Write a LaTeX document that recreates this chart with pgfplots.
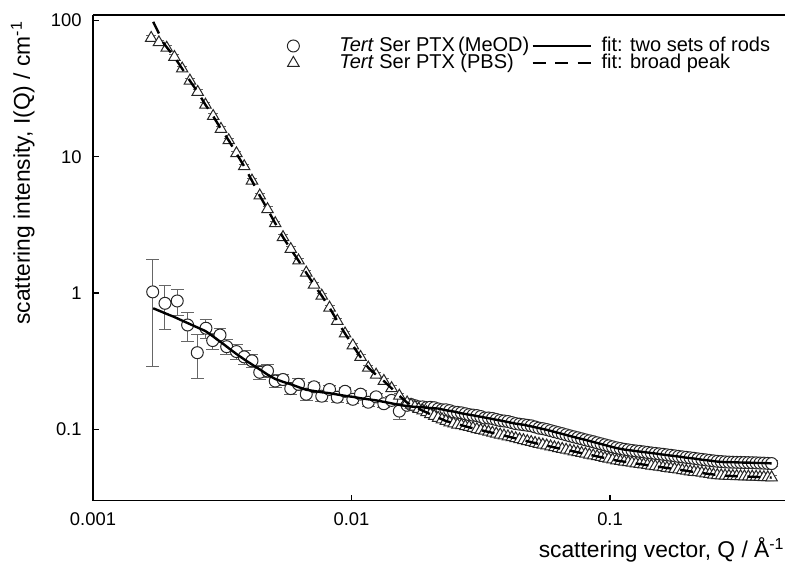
\documentclass[border=0pt]{standalone}
\usepackage{fontspec}
\setmainfont{Liberation Sans}
\usepackage{pgfplots}
\pgfplotsset{compat=1.18}
\usepackage{pgfplotstable}

\pgfplotsset{
    markleg/.style={legend image code/.code={\path[draw=none] (-12pt,0pt) -- (22pt,0pt);
        \path[##1] plot[only marks] coordinates {(0pt,0pt)};}},
    lineleg/.style={legend image code/.code={\draw[##1] (3.5pt,0pt) -- (32.5pt,0pt); \path[draw=none] (37pt,0pt);}},
}

% Tert Ser PTX in MeOD: Q, I(Q), error
\pgfplotstableread{
Q I err
0.001702 1.02 0.73
0.001899 0.841 0.305
0.002118 0.875 0.19
0.002323 0.583 0.14
0.002532 0.365 0.128
0.002735 0.552 0.09
0.002904 0.448 0.06
0.003100 0.492 0.06
0.003290 0.404 0.05
0.003589 0.372 0.045
0.003846 0.340 0.04
0.004121 0.318 0.035
0.004416 0.262 0.03
0.004732 0.268 0.03
0.005070 0.226 0.025
0.005433 0.232 0.022
0.005821 0.199 0.02
0.006237 0.214 0.02
0.006683 0.181 0.018
0.007161 0.205 0.017
0.007674 0.175 0.016
0.008222 0.196 0.015
0.008810 0.172 0.014
0.009441 0.190 0.013
0.01012 0.166 0.012
0.01084 0.181 0.012
0.01161 0.158 0.011
0.01245 0.173 0.011
0.01334 0.154 0.010
0.01429 0.163 0.010
0.01531 0.136 0.018
0.01641 0.150 0.008
0.01699 0.152 0.008
0.01758 0.149 0.007
0.01820 0.146 0.007
0.01884 0.146 0.007
0.01950 0.144 0.006
0.02018 0.145 0.006
0.02089 0.144 0.006
0.02163 0.141 0.006
0.02239 0.139 0.005
0.02317 0.139 0.005
0.02398 0.137 0.005
0.02483 0.134 0.005
0.02570 0.133 0.005
0.02661 0.132 0.005
0.02755 0.130 0.004
0.02851 0.128 0.004
0.02951 0.127 0.004
0.03055 0.126 0.004
0.03162 0.124 0.004
0.03273 0.121 0.004
0.03388 0.121 0.004
0.03508 0.120 0.004
0.03631 0.118 0.004
0.03758 0.116 0.004
0.03890 0.115 0.004
0.04027 0.114 0.004
0.04169 0.112 0.003
0.04315 0.110 0.003
0.04467 0.109 0.003
0.04624 0.108 0.003
0.04786 0.107 0.003
0.04955 0.106 0.003
0.05129 0.104 0.003
0.05309 0.102 0.003
0.05496 0.101 0.003
0.05689 0.0995 0.003
0.05889 0.0977 0.003
0.06095 0.0960 0.003
0.06309 0.0944 0.003
0.06531 0.0928 0.003
0.06761 0.0911 0.003
0.06998 0.0895 0.003
0.07244 0.0880 0.003
0.07499 0.0866 0.003
0.07763 0.0851 0.003
0.08035 0.0836 0.003
0.08318 0.0823 0.003
0.08610 0.0810 0.003
0.08913 0.0796 0.003
0.09226 0.0782 0.003
0.09550 0.0769 0.003
0.09886 0.0756 0.003
0.1023 0.0743 0.003
0.1059 0.0731 0.003
0.1096 0.0722 0.003
0.1135 0.0713 0.003
0.1175 0.0706 0.003
0.1216 0.0699 0.003
0.1259 0.0693 0.003
0.1303 0.0688 0.003
0.1349 0.0682 0.003
0.1396 0.0676 0.003
0.1445 0.0670 0.003
0.1496 0.0665 0.003
0.1549 0.0660 0.003
0.1603 0.0655 0.003
0.1659 0.0649 0.003
0.1718 0.0644 0.003
0.1778 0.0638 0.003
0.1841 0.0632 0.003
0.1905 0.0627 0.003
0.1972 0.0622 0.003
0.2041 0.0617 0.003
0.2113 0.0612 0.003
0.2187 0.0606 0.003
0.2265 0.0601 0.003
0.2344 0.0596 0.003
0.2427 0.0591 0.003
0.2512 0.0586 0.003
0.2600 0.0582 0.003
0.2692 0.0579 0.003
0.2786 0.0576 0.003
0.2884 0.0574 0.003
0.2985 0.0573 0.003
0.3090 0.0572 0.003
0.3199 0.0571 0.003
0.3311 0.0570 0.003
0.3428 0.0569 0.003
0.3548 0.0568 0.003
0.3673 0.0567 0.003
0.3802 0.0565 0.003
0.3936 0.0564 0.003
0.4074 0.0562 0.003
0.4217 0.0560 0.003
}\meod

% Tert Ser PTX in PBS
\pgfplotstableread{
Q I
0.001679 74.5
0.001799 69.2
0.001928 63.1
0.002065 54.0
0.002213 44.4
0.002371 36.2
0.002541 29.9
0.002723 24.1
0.002917 19.9
0.003126 16.0
0.003350 13.2
0.003589 10.6
0.003846 8.51
0.004121 6.68
0.004416 5.19
0.004732 4.12
0.005070 3.25
0.005433 2.57
0.005821 2.10
0.006237 1.73
0.006683 1.41
0.007161 1.15
0.007674 0.955
0.008222 0.780
0.008810 0.624
0.009441 0.504
0.01012 0.412
0.01084 0.339
0.01161 0.283
0.01245 0.251
0.01334 0.226
0.01429 0.200
0.01531 0.176
0.01641 0.157
0.01699 0.151
0.01758 0.146
0.01820 0.141
0.01884 0.137
0.01950 0.133
0.02018 0.129
0.02089 0.125
0.02163 0.121
0.02239 0.118
0.02317 0.115
0.02398 0.112
0.02483 0.110
0.02570 0.108
0.02661 0.107
0.02755 0.105
0.02851 0.104
0.02951 0.102
0.03055 0.100
0.03162 0.0986
0.03273 0.0973
0.03388 0.0957
0.03508 0.0942
0.03631 0.0927
0.03758 0.0912
0.03890 0.0898
0.04027 0.0885
0.04169 0.0871
0.04315 0.0857
0.04467 0.0843
0.04624 0.0830
0.04786 0.0817
0.04955 0.0805
0.05129 0.0792
0.05309 0.0780
0.05496 0.0769
0.05689 0.0759
0.05889 0.0747
0.06095 0.0736
0.06309 0.0726
0.06531 0.0716
0.06761 0.0706
0.06998 0.0697
0.07244 0.0687
0.07499 0.0678
0.07763 0.0668
0.08035 0.0659
0.08318 0.0650
0.08610 0.0641
0.08913 0.0632
0.09226 0.0624
0.09550 0.0615
0.09886 0.0607
0.1023 0.0598
0.1059 0.0590
0.1096 0.0583
0.1135 0.0577
0.1175 0.0571
0.1216 0.0566
0.1259 0.0560
0.1303 0.0555
0.1349 0.0550
0.1396 0.0545
0.1445 0.0540
0.1496 0.0535
0.1549 0.0530
0.1603 0.0525
0.1659 0.0520
0.1718 0.0515
0.1778 0.0510
0.1841 0.0506
0.1905 0.0500
0.1972 0.0495
0.2041 0.0490
0.2113 0.0486
0.2187 0.0482
0.2265 0.0478
0.2344 0.0473
0.2427 0.0469
0.2512 0.0464
0.2600 0.0460
0.2692 0.0458
0.2786 0.0456
0.2884 0.0454
0.2985 0.0453
0.3090 0.0452
0.3199 0.0451
0.3311 0.0450
0.3428 0.0449
0.3548 0.0448
0.3673 0.0447
0.3802 0.0445
0.3936 0.0444
0.4074 0.0443
0.4217 0.0442
}\pbs

% fit: two sets of rods
\pgfplotstableread{
Q I
0.001710 0.773
0.001799 0.743
0.001928 0.703
0.002065 0.667
0.002213 0.628
0.002371 0.592
0.002541 0.558
0.002723 0.526
0.002917 0.480
0.003126 0.436
0.003350 0.394
0.003589 0.357
0.003846 0.326
0.004121 0.299
0.004416 0.275
0.004732 0.252
0.005070 0.234
0.005433 0.223
0.005821 0.214
0.006237 0.204
0.006683 0.195
0.007161 0.191
0.007674 0.187
0.008222 0.184
0.008810 0.180
0.009441 0.176
0.01012 0.173
0.01084 0.169
0.01161 0.166
0.01245 0.163
0.01334 0.159
0.01429 0.155
0.01531 0.151
0.01641 0.148
0.01758 0.146
0.01884 0.145
0.02018 0.143
0.02163 0.142
0.02317 0.138
0.02483 0.135
0.02661 0.131
0.02851 0.128
0.03055 0.125
0.03273 0.122
0.03508 0.119
0.03758 0.116
0.04027 0.113
0.04315 0.110
0.04624 0.108
0.04955 0.105
0.05309 0.102
0.05689 0.0991
0.06095 0.0957
0.06531 0.0925
0.06998 0.0893
0.07499 0.0863
0.08035 0.0836
0.08610 0.0807
0.09226 0.0780
0.09886 0.0753
0.1059 0.0728
0.1135 0.0710
0.1216 0.0698
0.1303 0.0686
0.1396 0.0675
0.1496 0.0664
0.1603 0.0652
0.1718 0.0641
0.1841 0.0631
0.1972 0.0619
0.2113 0.0610
0.2265 0.0598
0.2427 0.0589
0.2600 0.0579
0.2786 0.0574
0.2985 0.0573
0.3199 0.0570
0.3428 0.0569
0.3673 0.0566
0.3936 0.0565
0.4217 0.0562
}\fitrods

% fit: broad peak
\pgfplotstableread{
Q I
0.00171 98.0
0.00188 68.0
0.002065 54.0
0.002213 44.4
0.002371 36.2
0.002541 29.9
0.002723 24.1
0.002917 19.9
0.003126 16.0
0.003350 13.2
0.003589 10.6
0.003846 8.51
0.004121 6.68
0.004416 5.19
0.004732 4.12
0.005070 3.25
0.005433 2.57
0.005821 2.10
0.006237 1.73
0.006683 1.41
0.007161 1.15
0.007674 0.955
0.008222 0.780
0.008810 0.624
0.009441 0.504
0.01012 0.412
0.01084 0.339
0.01161 0.283
0.01245 0.251
0.01334 0.226
0.01429 0.200
0.01531 0.176
0.01641 0.157
0.01758 0.146
0.01884 0.137
0.02018 0.129
0.02317 0.115
0.02661 0.107
0.03055 0.100
0.03508 0.0942
0.04027 0.0885
0.04624 0.0830
0.05309 0.0780
0.06095 0.0736
0.06998 0.0697
0.08035 0.0659
0.09226 0.0624
0.1059 0.0590
0.1216 0.0566
0.1396 0.0545
0.1603 0.0525
0.1841 0.0506
0.2113 0.0486
0.2427 0.0469
0.2786 0.0456
0.3199 0.0451
0.3673 0.0447
0.4217 0.0442
}\fitpeak

\begin{document}
\begin{tikzpicture}
\begin{axis}[
    scale only axis,
    width=346pt, height=242.85pt,
    xmode=log, ymode=log,
    xmin=0.001, xmax=0.475,
    ymin=0.0299, ymax=110,
    clip marker paths=true,
    axis x line=box, axis y line=left,
    axis line style={-, line width=0.6pt},
    xtick={0.001,0.01,0.1}, xticklabels={0.001,0.01,0.1},
    ytick={0.1,1,10,100}, yticklabels={0.1,1,10,100},
    xminorticks=false, yminorticks=false,
    xtick pos=left, ytick pos=left,
    tick align=inside, major tick length=3pt,
    tick style={line width=0.6pt, black},
    ticklabel style={font=\fontsize{9.2}{11}\selectfont},
    xticklabel style={inner sep=0pt, yshift=-6pt},
    yticklabel style={inner sep=0pt, xshift=-5.5pt},
    xlabel={scattering vector, Q / Å\textsuperscript{-1}},
    ylabel={scattering intensity, I(Q) / cm\textsuperscript{-1}},
    xlabel style={at={(axis description cs:1,-0.1178)}, anchor=base east,
        inner sep=0pt, font=\fontsize{11.4}{13}\selectfont},
    ylabel style={at={(axis description cs:-0.0838,0.675)}, anchor=south,
        inner sep=0pt, font=\fontsize{11.4}{13}\selectfont},
    legend style={at={(axis description cs:0.2549,0.9568)}, anchor=north west,
        draw=none, fill=none, inner sep=0pt, outer sep=0pt,
        row sep=-1.5pt, column sep=0pt,
        font=\fontsize{10}{12}\selectfont,
        nodes={inner sep=1pt, text height=7pt, text depth=1pt}},
    legend cell align=left,
    transpose legend, legend columns=2,
]
% measured data
\addplot[
    only marks, mark=*, mark size=3pt,
    mark options={fill=white, draw=black!85, line width=0.5pt},
    markleg,
    error bars/.cd, y dir=both, y explicit,
    error bar style={black!60, line width=0.5pt},
    error mark options={rotate=90, black!60, mark size=3.2pt, line width=0.5pt},
] table[x=Q, y=I, y error=err] {\meod};
\addlegendentry{\textit{Tert} Ser PTX\,(MeOD)}

\addplot[
    only marks, mark=triangle*, mark size=3.3pt,
    mark options={fill=white, draw=black!85, line width=0.5pt},
    markleg,
    error bars/.cd, y dir=both, y fixed relative=0.04,
    error bar style={black!60, line width=0.5pt},
    error mark options={rotate=90, black!60, mark size=2.5pt, line width=0.5pt},
] table[x=Q, y=I] {\pbs};
\addlegendentry{\textit{Tert} Ser PTX (PBS)}

% fits
\addplot[
    lineleg,
    black, line width=1.2pt, no marks,
] table[x=Q, y=I] {\fitrods};
\addlegendentry{fit: two sets of rods}

\addplot[
    lineleg,
    black, line width=1.2pt, no marks, dash pattern=on 6.5pt off 4.75pt,
] table[x=Q, y=I] {\fitpeak};
\addlegendentry{fit: broad peak}

\coordinate (tl) at (axis description cs:0,1);
\coordinate (br) at (axis description cs:1,0);
\end{axis}
\pgfresetboundingbox
\path (tl) ++(-46.5pt,7.5pt) (br) ++(0pt,-31.15pt);
\end{tikzpicture}
\end{document}
